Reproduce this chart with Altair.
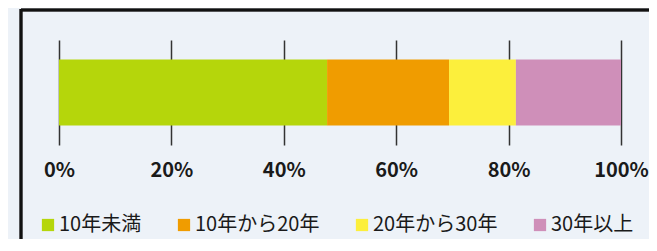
import altair as alt
import pandas as pd

categories = ["10年未満", "10年から20年", "20年から30年", "30年以上"]
shares = [47.7, 21.7, 11.9, 18.7]
colors = ["#b5d60b", "#f09c00", "#fcef3c", "#cf8fb9"]

df = pd.DataFrame({"cat": categories, "share": shares, "order": list(range(len(categories))), "grp": ["a"] * len(categories)})

FONT = "Noto Sans CJK JP"

bars = alt.Chart(df).mark_bar(size=66).encode(
    x=alt.X("share:Q", stack="normalize",
            scale=alt.Scale(domain=[0, 1], nice=False),
            axis=alt.Axis(values=[0, 0.2, 0.4, 0.6, 0.8, 1.0], format=".0%", title=None,
                          domain=False, ticks=False, grid=True, gridColor="#333333", gridWidth=1.5,
                          labelFont=FONT, labelFontSize=20, labelFontWeight="bold", labelColor="#1a1a1a",
                          labelPadding=15, labelFlush=False)),
    y=alt.Y("grp:N", axis=None),
    color=alt.Color("cat:N", scale=alt.Scale(domain=categories, range=colors),
                    legend=alt.Legend(title=None, orient="none", legendX=-21, legendY=175,
                                      direction="horizontal", symbolType="square", symbolSize=150,
                                      symbolStrokeWidth=0, symbolOpacity=1,
                                      labelFont=FONT, labelFontSize=20, labelColor="#1a1a1a",
                                      labelOffset=1, columnPadding=32, padding=0)),
    order=alt.Order("order:Q"),
)

frame_top = alt.Chart(df).mark_rule(color="#111111", strokeWidth=2.5).encode(
    x=alt.value(-38), x2=alt.value(640), y=alt.value(-30))
frame_left = alt.Chart(df).mark_rule(color="#111111", strokeWidth=2.5).encode(
    x=alt.value(-38), y=alt.value(-31), y2=alt.value(240))

chart = alt.layer(frame_top, frame_left, bars).properties(
    width=562, height=105,
    autosize=alt.AutoSizeParams(type="none"),
    padding={"left": 51, "top": 32, "right": 28, "bottom": 94},
    background="#edf2f8",
).configure_view(stroke=None)

chart.save("out.html", embed_options={"renderer": "svg", "actions": False})
